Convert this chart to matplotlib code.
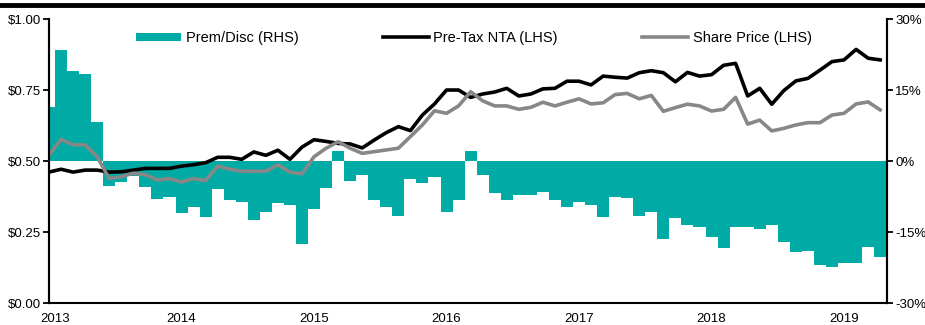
import numpy as np
import matplotlib.pyplot as plt
from matplotlib.lines import Line2D
from matplotlib.patches import Patch
from matplotlib.ticker import FuncFormatter

plt.rcParams['font.family'] = ['Liberation Sans', 'DejaVu Sans']

# premium / discount to pre-tax NTA (%), one value per period
prem_disc = [11.5, 23.5, 19.1, 18.4, 8.2, -5.2, -4.4, -3.2, -5.5, -8.0,
             -7.5, -11.0, -9.6, -11.8, -5.9, -8.2, -8.5, -12.3, -10.7, -8.9,
             -9.3, -17.5, -10.1, -5.6, 2.2, -4.1, -2.8, -8.2, -9.7, -11.6,
             -3.8, -4.5, -3.4, -10.7, -8.2, 2.2, -2.8, -6.6, -8.2, -7.1,
             -7.1, -6.4, -8.2, -9.6, -8.6, -9.3, -11.8, -7.5, -7.8, -11.5,
             -10.8, -16.4, -11.9, -13.4, -13.8, -16.0, -18.3, -13.8, -13.8, -14.2,
             -13.5, -17.1, -19.2, -18.9, -22.0, -22.3, -21.5, -21.5, -18.2, -20.3]

pre_tax_nta = [0.462, 0.472, 0.462, 0.469, 0.469, 0.462, 0.463, 0.469, 0.475, 0.475,
               0.475, 0.483, 0.488, 0.495, 0.514, 0.514, 0.507, 0.533, 0.521, 0.539,
               0.507, 0.550, 0.576, 0.570, 0.563, 0.561, 0.547, 0.575, 0.601, 0.622,
               0.608, 0.663, 0.702, 0.751, 0.751, 0.725, 0.737, 0.744, 0.757, 0.730,
               0.737, 0.755, 0.757, 0.782, 0.782, 0.769, 0.800, 0.796, 0.793, 0.812,
               0.819, 0.812, 0.780, 0.813, 0.800, 0.805, 0.838, 0.845, 0.730, 0.757,
               0.701, 0.749, 0.783, 0.792, 0.821, 0.851, 0.857, 0.894, 0.863, 0.857]

share_price = [0.522, 0.577, 0.558, 0.558, 0.516, 0.439, 0.446, 0.458, 0.453, 0.434,
               0.439, 0.427, 0.439, 0.432, 0.483, 0.472, 0.465, 0.465, 0.465, 0.488,
               0.462, 0.456, 0.516, 0.546, 0.569, 0.546, 0.528, 0.534, 0.540, 0.546,
               0.587, 0.628, 0.678, 0.669, 0.695, 0.745, 0.713, 0.695, 0.695, 0.683,
               0.690, 0.708, 0.695, 0.708, 0.720, 0.702, 0.706, 0.735, 0.739, 0.720,
               0.732, 0.676, 0.689, 0.701, 0.695, 0.677, 0.683, 0.725, 0.631, 0.645,
               0.607, 0.616, 0.628, 0.636, 0.636, 0.663, 0.669, 0.702, 0.709, 0.681]

year_labels = ['2013', '2014', '2015', '2016', '2017', '2018', '2019']
year_pos = [0.5, 11, 22, 33, 44, 55, 66]

teal = '#00ABA5'
grey = '#878787'

x = np.arange(len(prem_disc))

fig = plt.figure(figsize=(9.25, 3.25), dpi=100)
ax = fig.add_axes([0.053, 0.0668, 0.9057, 0.8738])
ax2 = ax.twinx()

# bars on the right-hand axis, lines on top of them
ax2.bar(x, prem_disc, width=1.0, color=teal, linewidth=0)
ax.plot(x, pre_tax_nta, color='black', lw=2.6, solid_joinstyle='round')
ax.plot(x, share_price, color=grey, lw=2.6, solid_joinstyle='round')
ax.set_zorder(ax2.get_zorder() + 1)
ax.patch.set_visible(False)

ax.set_xlim(0, len(prem_disc) - 0.45)
ax.set_ylim(0, 1)
ax2.set_ylim(-30, 30)

ax.set_yticks([0, 0.25, 0.5, 0.75, 1.0])
ax.yaxis.set_major_formatter(FuncFormatter(lambda v, p: '${:.2f}'.format(v)))
ax2.set_yticks([-30, -15, 0, 15, 30])
ax2.yaxis.set_major_formatter(FuncFormatter(lambda v, p: '{:.0f}%'.format(v)))

ax.set_xticks(year_pos)
ax.set_xticklabels(year_labels)
ax.tick_params(axis='x', length=0, pad=7, labelsize=9.5)
ax.tick_params(axis='y', direction='out', length=4, width=1.3, pad=2, labelsize=9.5)
ax2.tick_params(axis='y', direction='out', length=4, width=1.3, pad=2, labelsize=9.5)

for a in (ax, ax2):
    a.spines['top'].set_visible(False)
    a.spines['left'].set_linewidth(1.5)
    a.spines['right'].set_linewidth(1.5)
    a.spines['bottom'].set_linewidth(1.5)
ax2.spines['bottom'].set_visible(False)

handles = [Patch(facecolor=teal, edgecolor='none'),
           Line2D([], [], color='black', lw=2.6),
           Line2D([], [], color=grey, lw=2.6)]
labels = ['Prem/Disc (RHS)', 'Pre-Tax NTA (LHS)', 'Share Price (LHS)']
ax.legend(handles, labels, loc='center', bbox_to_anchor=(0.507, 0.934), ncol=3,
          frameon=False, fontsize=10.5, handlelength=3.1, handleheight=0.5,
          handletextpad=0.33, columnspacing=5.8)

# heavy rule across the top of the figure
fig.add_artist(Line2D([0, 1], [0.985, 0.985], transform=fig.transFigure,
                      color='black', lw=3.5))

fig.savefig('out.png', dpi=100)
